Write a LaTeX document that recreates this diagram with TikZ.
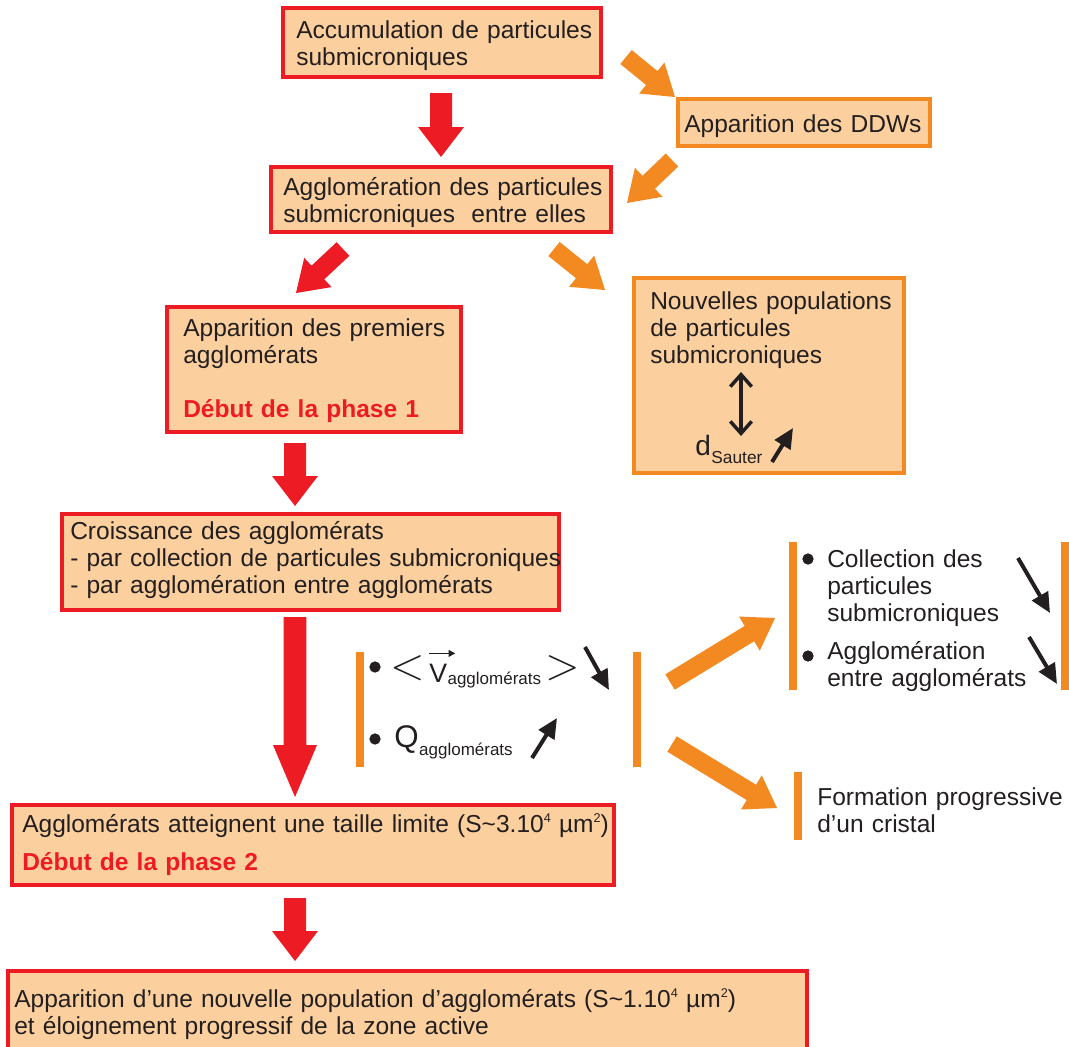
\documentclass[tikz,border=0pt]{standalone}
\usepackage{fix-cm}
\usepackage{fontspec}
\setmainfont{Liberation Sans}
\usetikzlibrary{arrows.meta,calc}
\definecolor{peach}{RGB}{252,208,158}
\definecolor{redc}{RGB}{237,28,36}
\definecolor{orc}{RGB}{243,137,33}
\definecolor{ink}{RGB}{35,31,32}
\newcommand\bodyfont{\fontsize{18.4pt}{20.4pt}\selectfont}
\newcommand\subfont{\fontsize{12.75pt}{13pt}\selectfont}
\newcommand\supr[1]{\raisebox{7pt}{\fontsize{9.5pt}{9.5pt}\selectfont #1}}
% block arrow: colour, start, tip, half shaft, half head, head length
\newcommand\blockarrow[6]{%
  \coordinate (bac) at ($(#3)!#6!(#2)$);
  \fill[#1] ($(#2)!#4!90:(#3)$) -- ($(bac)!#4!90:(#3)$) -- ($(bac)!#5!90:(#3)$) -- (#3)
    -- ($(bac)!#5!-90:(#3)$) -- ($(bac)!#4!-90:(#3)$) -- ($(#2)!#4!-90:(#3)$) -- cycle;}
\begin{document}
\begin{tikzpicture}[x=0.75pt,y=-0.75pt,
  box/.style={rectangle, line width=3pt, fill=peach, inner sep=0pt},
  redbox/.style={box, draw=redc},
  orbox/.style={box, draw=orc},
  tx/.style={anchor=base west, inner sep=0pt, align=left, text width=600pt, font=\bodyfont, text=ink},
  bar/.style={draw=orc, line width=6pt},
  dot/.style={circle, fill=ink, inner sep=0pt, minimum size=8.5pt},
  blk/.style={draw=ink, line width=3pt, -{Triangle[length=15pt,width=13.5pt]}},
  dbl/.style={draw=ink, line width=2.6pt, {Straight Barb[length=9pt,width=16pt]}-{Straight Barb[length=9pt,width=16pt]}},
  sym/.style={inner sep=0pt, text=ink},
  ]
\useasboundingbox (0,0) rectangle (1069,1046);

% boxes
\node[redbox, minimum width=238.5pt, minimum height=51.75pt] (acc) at (442,42.5) {};
\node[tx] (acc-t) at (296,38) {Accumulation de particules\\submicroniques};

\node[orbox, minimum width=189pt, minimum height=35.25pt] (ddw) at (804,122.5) {};
\node[tx] (ddw-t) at (684,132) {Apparition des DDWs};

\node[redbox, minimum width=255pt, minimum height=48.75pt] (agg) at (441,199.5) {};
\node[tx] (agg-t) at (283,195) {Agglomération des particules\\submicroniques\ \ entre elles};

\node[redbox, minimum width=220.5pt, minimum height=93.75pt] (prem) at (314,369.5) {};
\node[tx] (prem-t) at (183,336) {Apparition des premiers\\agglomérats\\[20.25pt]{\color{redc}\bfseries Début de la phase 1}};

\node[orbox, minimum width=202.5pt, minimum height=146.25pt] (nouv) at (769,375.5) {};
\node[tx] (nouv-t) at (650,309) {Nouvelles populations\\de particules\\submicroniques};
\coordinate (ds1) at (741,372);
\coordinate (ds2) at (741,436);
\draw[dbl] (ds1) -- (ds2);
\node[sym, anchor=base west, font=\fontsize{21pt}{21pt}\selectfont] (dS) at (695,455) {d};
\node[sym, anchor=base west, font=\fontsize{13pt}{13pt}\selectfont] (dSsub) at (dS.base east) [yshift=-6pt] {Sauter};
\coordinate (b5s) at (772,462);
\coordinate (b5e) at (793,428);
\draw[blk] (b5s) -- (b5e);

\node[redbox, minimum width=372.75pt, minimum height=72pt] (cro) at (310.5,562) {};
\node[tx] (cro-t) at (70,539) {Croissance des agglomérats\\- par collection de particules submicroniques\\- par agglomération entre agglomérats};

\node[redbox, minimum width=451.5pt, minimum height=60pt] (lim) at (313,845) {};
\node[tx] (lim-t) at (22,832) {Agglomérats atteignent une taille limite (S\textasciitilde 3.10\supr{4} µm\supr{2})\\[8.25pt]{\color{redc}\bfseries Début de la phase 2}};

\node[redbox, minimum width=599.25pt, minimum height=60.75pt] (np) at (407.5,1011.5) {};
\node[tx] (np-t) at (14,1007) {Apparition d’une nouvelle population d’agglomérats (S\textasciitilde 1.10\supr{4} µm\supr{2})\\et éloignement progressif de la zone active};

% middle bracket group
\draw[bar] (360,652) -- (360,767);
\draw[bar] (637,652) -- (637,767);
\node[dot] (m1) at (375,667) {};
\node[sym, font=\fontsize{34pt}{34pt}\selectfont] (lt) at (407.5,668) {$<$};
\node[sym, anchor=base west, font=\fontsize{20pt}{20pt}\selectfont] (vV) at (429,682) {V};
\node[sym, anchor=base west, font=\subfont] (vsub) at ([yshift=-1.5pt]vV.base east) {agglomérats};
\draw[draw=ink, line width=1.1pt, -{Triangle[length=5pt,width=5pt]}] ([yshift=7.5pt]vV.north west) -- ([xshift=6pt,yshift=7.5pt]vV.north east);
\node[sym, font=\fontsize{34pt}{34pt}\selectfont] (gt) at (562.5,668) {$>$};
\coordinate (b1s) at (585,647);
\coordinate (b1e) at (609,690);
\draw[blk] (b1s) -- (b1e);
\node[dot] (m2) at (375,739) {};
\node[sym, anchor=base west, font=\fontsize{23.5pt}{24pt}\selectfont] (Q) at (394,747) {Q};
\node[sym, anchor=base west, font=\subfont] (qsub) at ([yshift=-6pt]Q.base east) {agglomérats};
\coordinate (b2s) at (532,758);
\coordinate (b2e) at (557,718);
\draw[blk] (b2s) -- (b2e);

% right group
\draw[bar] (793,542) -- (793,690);
\draw[bar] (1065,542) -- (1065,690);
\node[dot] (r1) at (808,559) {};
\node[tx] (r1-t) at (827,567) {Collection des\\particules\\submicroniques};
\node[dot] (r2) at (808,656) {};
\node[tx] (r2-t) at (827,659) {Agglomération\\entre agglomérats};
\coordinate (b3s) at (1018,558);
\coordinate (b3e) at (1050,613);
\draw[blk] (b3s) -- (b3e);
\coordinate (b4s) at (1029,637);
\coordinate (b4e) at (1057,684);
\draw[blk] (b4s) -- (b4e);

% formation
\draw[bar] (798,772) -- (798,840);
\node[tx] (form) at (817,805) {Formation progressive\\d’un cristal};

% red block arrows
\coordinate (a1s) at (441,93);   \coordinate (a1e) at (441,157);
\coordinate (a2s) at (343,249);  \coordinate (a2e) at (296,293);
\coordinate (a3s) at (295,443);  \coordinate (a3e) at (295,506);
\coordinate (a4s) at (295,617);  \coordinate (a4e) at (295,797);
\coordinate (a5s) at (295,898);  \coordinate (a5e) at (295,961);
\blockarrow{redc}{a1s}{a1e}{8.25pt}{17.25pt}{22.5pt}
\blockarrow{redc}{a2s}{a2e}{7pt}{15pt}{22.5pt}
\blockarrow{redc}{a3s}{a3e}{8.25pt}{17.25pt}{22.5pt}
\blockarrow{redc}{a4s}{a4e}{8.6pt}{16.5pt}{39pt}
\blockarrow{redc}{a5s}{a5e}{8.25pt}{17.25pt}{22.5pt}

% orange block arrows
\coordinate (o1s) at (626,57);   \coordinate (o1e) at (675,97);
\coordinate (o2s) at (672,160);  \coordinate (o2e) at (627,203);
\coordinate (o3s) at (554,249);  \coordinate (o3e) at (605,290);
\coordinate (o4s) at (670,682);  \coordinate (o4e) at (775,618);
\coordinate (o5s) at (672,744);  \coordinate (o5e) at (777,808);
\blockarrow{orc}{o1s}{o1e}{6.75pt}{15pt}{22.5pt}
\blockarrow{orc}{o2s}{o2e}{6.75pt}{15pt}{22.5pt}
\blockarrow{orc}{o3s}{o3e}{6.75pt}{15pt}{22.5pt}
\blockarrow{orc}{o4s}{o4e}{6.75pt}{15pt}{22.5pt}
\blockarrow{orc}{o5s}{o5e}{6.75pt}{15pt}{22.5pt}
\end{tikzpicture}
\end{document}
